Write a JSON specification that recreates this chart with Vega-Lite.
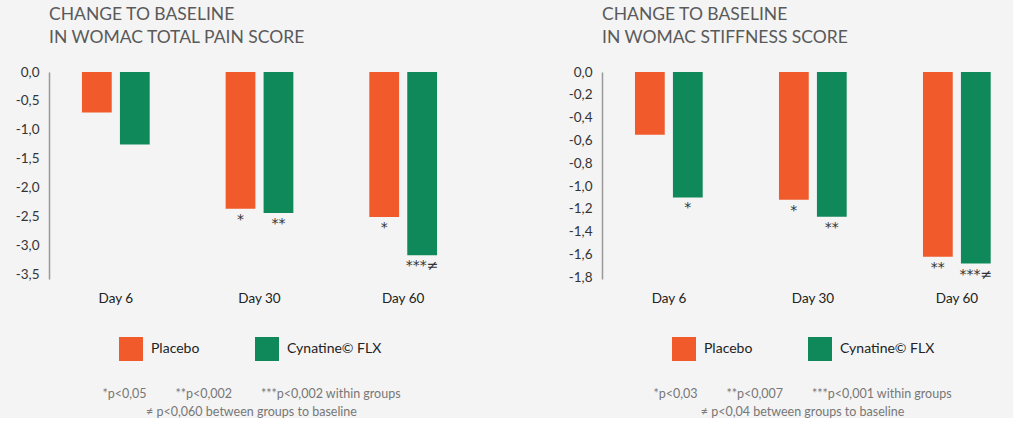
{
  "$schema": "https://vega.github.io/schema/vega-lite/v6.json",
  "background": "#f4f4f4",
  "padding": {"left": 5, "top": 5, "right": 0, "bottom": 0},
  "config": {
    "view": {"stroke": null},
    "font": "Lato",
    "concat": {"spacing": 78},
    "axisY": {"domainColor": "#999999", "domainWidth": 1.5, "ticks": false, "grid": false, "labelFontSize": 13.5, "labelColor": "#333333", "labelPadding": 10, "title": null, "minExtent": 44, "maxExtent": 44, "labelExpr": "replace(replace(format(datum.value, '.1f'), '.', ','), '\u2212', '-')"},
    "axisX": {"domain": false, "ticks": false, "grid": false, "labelAngle": 0, "labelFontSize": 13.5, "labelColor": "#222222", "labelPadding": 12, "titleFontSize": 12.5, "titleFontWeight": "normal", "titleColor": "#777777", "titleLineHeight": 18, "titlePadding": 83, "titleAlign": "center"},
    "legend": {"orient": "none", "direction": "horizontal", "symbolType": "square", "symbolSize": 576, "symbolStrokeWidth": 0, "labelFontSize": 14, "labelColor": "#222222", "labelOffset": 8, "columnPadding": 55, "title": null, "legendY": 265, "legendX": 70},
    "title": {"anchor": "start", "frame": "group", "fontSize": 17.5, "fontWeight": "normal", "color": "#5a5a5a", "lineHeight": 23, "offset": 19}
  },
  "resolve": {"legend": {"color": "independent"}},
  "datasets": {
    "pain": [
      {"day": "Day 6", "group": "Placebo", "value": -0.70, "sig": ""},
      {"day": "Day 6", "group": "Cynatine© FLX", "value": -1.25, "sig": ""},
      {"day": "Day 30", "group": "Placebo", "value": -2.36, "sig": "*"},
      {"day": "Day 30", "group": "Cynatine© FLX", "value": -2.43, "sig": "**"},
      {"day": "Day 60", "group": "Placebo", "value": -2.50, "sig": "*"},
      {"day": "Day 60", "group": "Cynatine© FLX", "value": -3.16, "sig": "***≠"}
    ],
    "stiff": [
      {"day": "Day 6", "group": "Placebo", "value": -0.55, "sig": ""},
      {"day": "Day 6", "group": "Cynatine© FLX", "value": -1.10, "sig": "*"},
      {"day": "Day 30", "group": "Placebo", "value": -1.12, "sig": "*"},
      {"day": "Day 30", "group": "Cynatine© FLX", "value": -1.27, "sig": "**"},
      {"day": "Day 60", "group": "Placebo", "value": -1.62, "sig": "**"},
      {"day": "Day 60", "group": "Cynatine© FLX", "value": -1.68, "sig": "***≠"}
    ]
  },
  "hconcat": [
    {
      "title": {"text": ["CHANGE TO BASELINE", "IN WOMAC TOTAL PAIN SCORE"]},
      "width": 421,
      "height": 207,
      "data": {"name": "pain"},
      "encoding": {
        "x": {"field": "day", "type": "nominal", "sort": ["Day 6", "Day 30", "Day 60"],
              "scale": {"range": [-5, 426], "paddingInner": 0, "paddingOuter": 0},
              "axis": {"title": ["*p<0,05\u00a0\u00a0\u00a0\u00a0\u00a0\u00a0\u00a0\u00a0\u00a0**p<0,002\u00a0\u00a0\u00a0\u00a0\u00a0\u00a0\u00a0\u00a0\u00a0***p<0,002 within groups", "≠ p<0,060 between groups to baseline"], "titleX": 202}},
        "xOffset": {"field": "group", "type": "nominal", "sort": ["Placebo", "Cynatine© FLX"], "scale": {"paddingInner": 0.216, "paddingOuter": 1.0}},
        "y": {"field": "value", "type": "quantitative", "scale": {"domain": [-3.57, 0], "nice": false},
              "axis": {"values": [0, -0.5, -1, -1.5, -2, -2.5, -3, -3.5]}}
      },
      "layer": [
        {"mark": {"type": "bar"},
         "encoding": {"color": {"field": "group", "type": "nominal", "sort": ["Placebo", "Cynatine© FLX"], "scale": {"domain": ["Placebo", "Cynatine© FLX"], "range": ["#f15a2b", "#10895a"]}}}},
        {"mark": {"type": "text", "baseline": "top", "dy": 4, "fontSize": 14, "font": "DejaVu Sans", "color": "#333333"},
         "encoding": {"text": {"field": "sig"}}},
        {"data": {"values": [{}]}, "mark": {"type": "rule", "color": "#888888", "strokeWidth": 1.5},
         "encoding": {"x": null, "xOffset": null, "y": {"datum": 0}}}
      ]
    },
    {
      "title": {"text": ["CHANGE TO BASELINE", "IN WOMAC STIFFNESS SCORE"]},
      "width": 410,
      "height": 207,
      "data": {"name": "stiff"},
      "encoding": {
        "x": {"field": "day", "type": "nominal", "sort": ["Day 6", "Day 30", "Day 60"],
              "scale": {"range": [-5, 427], "paddingInner": 0, "paddingOuter": 0},
              "axis": {"title": ["*p<0,03\u00a0\u00a0\u00a0\u00a0\u00a0\u00a0\u00a0\u00a0\u00a0**p<0,007\u00a0\u00a0\u00a0\u00a0\u00a0\u00a0\u00a0\u00a0\u00a0***p<0,001 within groups", "≠ p<0,04 between groups to baseline"], "titleX": 200}},
        "xOffset": {"field": "group", "type": "nominal", "sort": ["Placebo", "Cynatine© FLX"], "scale": {"paddingInner": 0.216, "paddingOuter": 1.0}},
        "y": {"field": "value", "type": "quantitative", "scale": {"domain": [-1.815, 0], "nice": false},
              "axis": {"values": [0, -0.2, -0.4, -0.6, -0.8, -1, -1.2, -1.4, -1.6, -1.8]}}
      },
      "layer": [
        {"mark": {"type": "bar"},
         "encoding": {"color": {"field": "group", "type": "nominal", "sort": ["Placebo", "Cynatine© FLX"], "scale": {"domain": ["Placebo", "Cynatine© FLX"], "range": ["#f15a2b", "#10895a"]}}}},
        {"mark": {"type": "text", "baseline": "top", "dy": 4, "fontSize": 14, "font": "DejaVu Sans", "color": "#333333"},
         "encoding": {"text": {"field": "sig"}}},
        {"data": {"values": [{}]}, "mark": {"type": "rule", "color": "#888888", "strokeWidth": 1.5},
         "encoding": {"x": null, "xOffset": null, "y": {"datum": 0}}}
      ]
    }
  ]
}
